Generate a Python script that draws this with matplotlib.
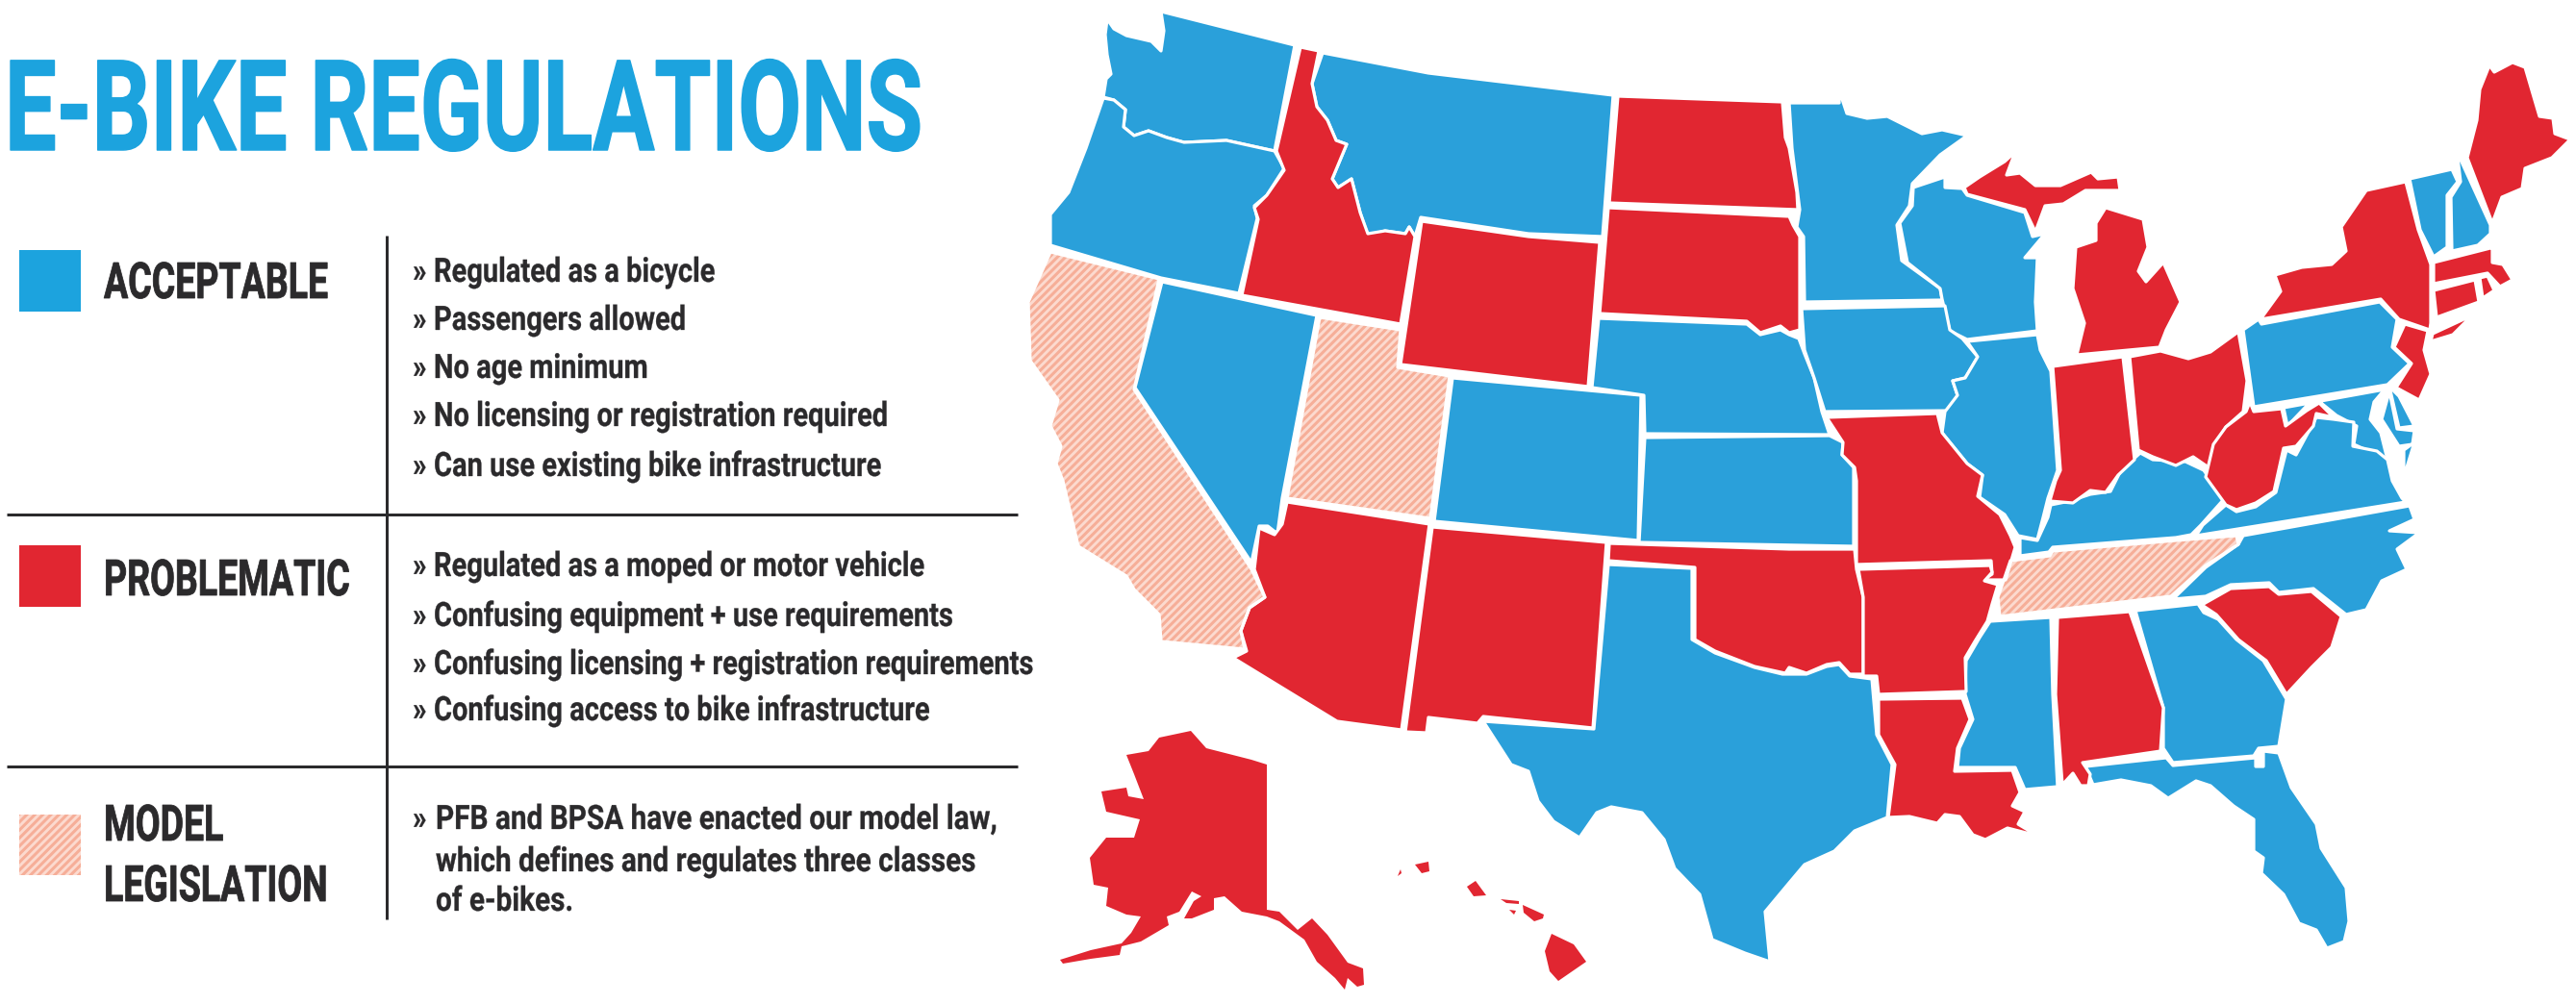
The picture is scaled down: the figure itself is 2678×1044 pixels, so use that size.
import matplotlib
matplotlib.use("Agg")
import matplotlib.pyplot as plt
from matplotlib.patches import Polygon, Rectangle
from matplotlib.patheffects import AbstractPathEffect
from matplotlib.text import Text
from matplotlib.transforms import Affine2D, Bbox

# outlines, in image pixels
WA = [(1151,20),(1158,30),(1171,37),(1197,43),(1207,53),(1210,32),(1207,12),(1346,47),(1325,157),(1275,146),(1231,148),(1213,143),(1194,136),(1179,141),(1168,132),(1170,114),(1158,104),(1147,101),(1150,82),(1155,77),(1151,57),(1149,36)]
OR = [(1147,102),(1158,104),(1170,114),(1168,132),(1179,141),(1194,136),(1213,143),(1231,148),(1275,146),(1325,157),(1335,175),(1317,203),(1304,214),(1307,227),(1288,305),(1207,289),(1092,255),(1092,223),(1111,200),(1129,154)]
ID = [(1352,49),(1371,53),(1364,87),(1369,111),(1380,125),(1389,146),(1400,150),(1385,186),(1391,195),(1405,186),(1414,221),(1422,243),(1440,240),(1461,243),(1465,236),(1471,246),(1456,337),(1291,307),(1308,228),(1304,216),(1317,203),(1335,177),(1327,157)]
MT = [(1375,55),(1485,76),(1677,99),(1666,246),(1589,243),(1477,226),(1471,246),(1465,236),(1461,243),(1440,240),(1422,245),(1414,221),(1405,186),(1391,195),(1385,186),(1400,150),(1389,146),(1380,125),(1369,111),(1364,87)]
WY = [(1478,230),(1589,246),(1663,252),(1651,402),(1456,379)]
ND = [(1682,100),(1853,106),(1856,143),(1860,154),(1868,200),(1869,218),(1673,211)]
SD = [(1672,216),(1860,225),(1864,234),(1871,246),(1871,343),(1860,346),(1851,339),(1830,346),(1816,334),(1663,326)]
NE = [(1662,331),(1816,337),(1830,348),(1851,343),(1860,348),(1870,352),(1876,368),(1886,393),(1894,428),(1902,452),(1710,451),(1709,411),(1655,403)]
KS = [(1710,455),(1902,453),(1916,460),(1915,473),(1927,486),(1927,568),(1704,564)]
CO = [(1510,393),(1706,411),(1703,562),(1491,542)]
UT = [(1372,330),(1456,343),(1453,382),(1507,391),(1487,539),(1338,518)]
NV = [(1208,293),(1369,328),(1333,518),(1328,555),(1318,547),(1309,547),(1301,585),(1180,403)]
CA = [(1092,262),(1205,290),(1179,405),(1241,500),(1301,592),(1315,621),(1299,632),(1290,656),(1294,675),(1207,667),(1205,639),(1179,613),(1171,599),(1121,568),(1105,500),(1098,482),(1103,464),(1092,443),(1100,416),(1071,375),(1069,314),(1077,296)]
AZ = [(1338,522),(1486,545),(1457,759),(1390,750),(1282,684),(1296,677),(1290,656),(1299,632),(1315,621),(1304,592),(1309,549),(1325,556),(1333,545)]
NM = [(1489,548),(1670,564),(1656,757),(1542,745),(1536,752),(1485,746),(1483,762),(1461,761)]
OK = [(1673,565),(1860,571),(1928,571),(1930,592),(1937,621),(1937,701),(1923,701),(1912,689),(1899,691),(1878,700),(1860,694),(1856,700),(1824,693),(1783,677),(1762,665),(1762,590),(1672,583)]
TX = [(1672,587),(1759,591),(1759,665),(1783,679),(1824,694),(1853,701),(1878,701),(1899,693),(1912,691),(1923,703),(1946,706),(1951,764),(1967,795),(1962,850),(1928,864),(1907,885),(1876,899),(1860,918),(1835,948),(1840,1000),(1814,991),(1780,977),(1767,930),(1741,903),(1730,873),(1707,845),(1675,839),(1660,845),(1642,871),(1615,854),(1599,833),(1589,802),(1571,795),(1542,750),(1657,758)]
MN = [(1860,107),(1912,107),(1912,94),(1920,118),(1941,123),(1962,121),(1998,139),(2019,135),(2045,141),(2017,161),(1988,191),(1985,214),(1972,234),(1977,271),(2017,300),(2019,312),(1876,314),(1875,246),(1868,236),(1871,218),(1863,154)]
WI = [(1989,195),(2022,184),(2022,195),(2040,196),(2045,203),(2105,221),(2113,246),(2126,243),(2105,268),(2118,268),(2116,314),(2118,344),(2045,353),(2027,344),(2019,311),(2017,300),(1983,273),(1975,232),(1988,214)]
IA = [(1873,321),(2022,318),(2027,343),(2040,352),(2056,371),(2043,393),(2030,396),(2035,411),(2027,427),(1897,428),(1886,393),(1876,364)]
IL = [(2045,355),(2118,348),(2121,364),(2132,386),(2139,489),(2129,518),(2124,538),(2118,561),(2098,557),(2084,535),(2058,517),(2061,494),(2045,482),(2019,450),(2022,428),(2035,411),(2030,396),(2043,393),(2056,371)]
MO = [(1899,434),(2014,430),(2019,450),(2045,482),(2061,494),(2056,516),(2079,535),(2090,557),(2095,569),(2085,603),(2062,603),(2071,597),(2070,583),(1930,587),(1930,500),(1928,486),(1915,473),(1916,460)]
AR = [(1932,592),(2069,588),(2071,595),(2063,604),(2077,608),(2071,628),(2066,646),(2053,667),(2043,684),(2044,719),(1953,722),(1951,703),(1937,703),(1937,621)]
LA = [(1953,727),(2040,726),(2048,748),(2035,778),(2032,802),(2092,801),(2100,824),(2092,838),(2105,844),(2098,857),(2118,869),(2087,861),(2064,873),(2051,868),(2037,849),(2022,847),(2014,856),(1985,849),(1963,850),(1970,795),(1953,764)]
MS = [(2069,646),(2132,642),(2134,722),(2139,818),(2105,821),(2095,798),(2035,798),(2037,778),(2051,748),(2043,722),(2044,687),(2058,663)]
AL = [(2139,642),(2214,636),(2249,736),(2246,781),(2165,793),(2173,805),(2171,817),(2163,817),(2155,804),(2144,816),(2137,722)]
GA = [(2220,635),(2285,628),(2291,637),(2306,644),(2325,665),(2353,687),(2377,727),(2369,776),(2348,778),(2343,786),(2259,793),(2249,778),(2249,736)]
FL = [(2168,797),(2252,788),(2259,796),(2345,788),(2345,797),(2353,797),(2353,781),(2369,783),(2382,819),(2408,857),(2413,882),(2439,923),(2442,958),(2437,979),(2419,986),(2408,967),(2390,960),(2374,930),(2351,908),(2353,892),(2343,885),(2343,852),(2322,838),(2298,817),(2283,812),(2254,830),(2236,817),(2205,811),(2176,816)]
SC = [(2289,629),(2319,612),(2359,610),(2369,618),(2403,615),(2434,641),(2424,673),(2403,694),(2377,722),(2356,687),(2327,665),(2304,639)]
NC = [(2332,557),(2505,526),(2510,540),(2484,552),(2515,554),(2492,571),(2502,592),(2476,604),(2460,634),(2439,639),(2405,612),(2369,616),(2359,606),(2319,608),(2293,620),(2259,623),(2293,590),(2327,566)]
TN = [(2090,583),(2131,578),(2134,573),(2262,562),(2325,557),(2327,566),(2293,588),(2257,620),(2079,641),(2077,621)]
KY = [(2100,578),(2100,559),(2118,562),(2129,538),(2132,525),(2152,521),(2173,514),(2194,511),(2205,489),(2225,471),(2238,478),(2272,480),(2291,489),(2312,519),(2288,546),(2278,556),(2262,559),(2134,569),(2130,574)]
IN = [(2134,381),(2207,371),(2219,478),(2202,494),(2189,512),(2173,510),(2155,523),(2131,521),(2137,500),(2142,489)]
OH = [(2214,371),(2246,365),(2275,373),(2298,366),(2327,345),(2336,396),(2332,428),(2314,444),(2304,461),(2296,486),(2280,475),(2262,484),(2238,475),(2223,468)]
MI_LOWER = [(2189,216),(2228,228),(2233,257),(2223,282),(2231,293),(2249,273),(2267,314),(2252,343),(2245,361),(2159,369),(2167,336),(2155,300),(2158,257),(2179,250),(2179,232)]
MI_UPPER = [(2042,195),(2058,184),(2084,168),(2095,158),(2086,182),(2100,180),(2116,193),(2142,193),(2174,179),(2181,186),(2202,184),(2204,198),(2168,198),(2145,212),(2126,214),(2116,241),(2105,218),(2045,202)]
NY = [(2501,189),(2514,239),(2527,275),(2527,336),(2526,343),(2494,332),(2475,311),(2350,332),(2371,303),(2365,286),(2393,278),(2424,275),(2439,261),(2434,236),(2460,198)]
LONG_ISLAND = [(2529,347),(2570,328),(2550,348),(2527,355)]
NJ = [(2500,337),(2524,344),(2520,364),(2527,389),(2515,416),(2491,403),(2507,378),(2489,361)]
PA = [(2332,343),(2348,332),(2351,337),(2474,314),(2492,332),(2487,361),(2505,378),(2482,400),(2343,423)]
VT = [(2505,186),(2549,176),(2555,189),(2544,203),(2544,257),(2530,267),(2516,239)]
NH = [(2555,164),(2558,166),(2589,234),(2589,243),(2576,255),(2549,261),(2548,205),(2558,189)]
ME = [(2588,68),(2593,75),(2612,65),(2625,70),(2640,121),(2654,123),(2656,139),(2672,145),(2653,164),(2625,175),(2622,196),(2601,205),(2591,232),(2565,164),(2575,125),(2578,93)]
MA = [(2530,273),(2589,258),(2591,253),(2591,273),(2602,275),(2612,291),(2599,298),(2586,284),(2530,295)]
CT = [(2530,302),(2573,291),(2577,314),(2533,330)]
RI = [(2578,289),(2586,287),(2593,302),(2581,310)]
MD = [(2374,424),(2479,405),(2468,418),(2464,436),(2475,450),(2482,478),(2447,462),(2450,443),(2429,432),(2413,419),(2397,423),(2378,443)]
MD_EAST = [(2484,407),(2492,446),(2510,448),(2508,462),(2494,464),(2476,436)]
DE = [(2484,402),(2494,412),(2510,443),(2494,445)]
WV = [(2339,418),(2343,428),(2372,425),(2376,443),(2398,427),(2411,419),(2426,434),(2408,430),(2405,443),(2387,464),(2374,466),(2364,511),(2345,523),(2325,530),(2314,525),(2293,496),(2301,462),(2314,444),(2335,428)]
VA = [(2283,557),(2290,546),(2314,525),(2325,532),(2345,527),(2366,512),(2377,468),(2387,473),(2408,434),(2426,436),(2447,439),(2446,464),(2471,469),(2482,478),(2487,500),(2497,518),(2501,522)]
VA_EAST = [(2499,468),(2510,460),(2499,496)]
AK = [(1238,760),(1254,778),(1301,790),(1317,795),(1317,946),(1330,948),(1349,967),(1364,955),(1380,972),(1401,1001),(1417,1007),(1418,1024),(1411,1026),(1401,1017),(1398,1029),(1388,1017),(1369,1000),(1356,977),(1330,958),(1317,953),(1291,948),(1273,932),(1262,934),(1262,946),(1239,955),(1231,955),(1241,937),(1249,932),(1239,927),(1226,948),(1213,953),(1215,962),(1186,979),(1166,984),(1164,993),(1134,997),(1105,1002),(1102,998),(1134,988),(1166,981),(1176,970),(1186,953),(1171,951),(1150,942),(1152,923),(1137,920),(1133,892),(1150,871),(1179,871),(1185,852),(1150,844),(1145,823),(1171,819),(1173,828),(1189,831),(1179,805),(1171,785),(1194,781),(1205,767)]
HI_KAUAI = [(1471,899),(1485,896),(1486,906),(1478,908)]
HI_NIIHAU = [(1456,904),(1457,908),(1453,911)]
HI_OAHU = [(1525,922),(1534,916),(1545,931),(1532,932)]
HI_MOLOKAI = [(1560,935),(1579,937),(1579,940),(1566,939)]
HI_LANAI = [(1569,946),(1576,947),(1574,951)]
HI_MAUI = [(1583,941),(1605,951),(1604,955),(1595,958),(1584,949)]
HI_BIG = [(1613,971),(1636,982),(1649,1000),(1620,1020),(1611,1010),(1606,989)]

ACCEPTABLE = [WA, OR, MT, NV, CO, NE, KS, TX, MN, WI, IA, IL, MS, GA, FL, NC, KY, PA, VT, NH, MD, MD_EAST, DE, VA, VA_EAST]
PROBLEMATIC = [ID, WY, ND, SD, AZ, NM, OK, MO, AR, LA, AL, SC, IN, OH, MI_LOWER, MI_UPPER, NY, LONG_ISLAND, NJ, ME, MA, CT, RI, WV]
PROBLEMATIC_ISLANDS = [AK, HI_KAUAI, HI_NIIHAU, HI_OAHU, HI_MOLOKAI, HI_LANAI, HI_MAUI, HI_BIG]
MODEL_LAW = [CA, UT, TN]

TITLE = "E-BIKE REGULATIONS"
HEADINGS = ["ACCEPTABLE", "PROBLEMATIC", "MODEL", "LEGISLATION"]
ACCEPTABLE_ITEMS = ["Regulated as a bicycle", "Passengers allowed", "No age minimum",
                    "No licensing or registration required", "Can use existing bike infrastructure"]
PROBLEMATIC_ITEMS = ["Regulated as a moped or motor vehicle", "Confusing equipment + use requirements",
                     "Confusing licensing + registration requirements", "Confusing access to bike infrastructure"]
MODEL_ITEMS = ["PFB and BPSA have enacted our model law,", "which defines and regulates three classes", "of e-bikes."]

BLUE = "#2aa0da"
RED = "#e12631"
LEGEND_BLUE = "#1ca3de"
HATCH_BG = "#fcdacf"
HATCH_FG = "#f6ae98"
INK = "#2b2a2c"

DPI = 100
px = 72 / DPI  # points per image pixel
plt.rcParams["font.family"] = ["Roboto", "DejaVu Sans"]
plt.rcParams["hatch.linewidth"] = 3 * px


class Narrow(AbstractPathEffect):
    """squeeze glyphs sideways, no condensed face is installed"""
    def __init__(self, sx, stroke=0.0):
        super().__init__()
        self.sx, self.stroke = sx, stroke

    def draw_path(self, renderer, gc, tpath, affine, rgbFace=None):
        gc0 = renderer.new_gc()
        gc0.copy_properties(gc)
        gc0.set_linewidth(self.stroke)
        gc0.set_foreground(rgbFace)
        renderer.draw_path(gc0, tpath, Affine2D().scale(self.sx, 1) + affine, rgbFace)
        gc0.restore()


class NarrowText(Text):
    """left aligned text drawn squeezed, reports the squeezed box"""
    def __init__(self, x, y, s, sx, stroke, **kw):
        super().__init__(x, y, s, ha="left", va="baseline", fontweight="bold", **kw)
        self.sx = sx
        self.set_path_effects([Narrow(sx, stroke)])

    def get_window_extent(self, renderer=None, dpi=None):
        bb = super().get_window_extent(renderer, dpi)
        return Bbox.from_extents(bb.x0, bb.y0, bb.x0 + bb.width * self.sx, bb.y1)


fig = plt.figure(figsize=(2678 / DPI, 1044 / DPI), dpi=DPI)
ax = fig.add_axes([0, 0, 1, 1])
ax.set_xlim(0, 2678)
ax.set_ylim(1044, 0)
ax.axis("off")

for group, col in ((ACCEPTABLE, BLUE), (PROBLEMATIC, RED)):
    for outline in group:
        ax.add_patch(Polygon(outline, closed=True, fc=col, ec="white", lw=3.2 * px, joinstyle="round", zorder=2))
for outline in PROBLEMATIC_ISLANDS:
    ax.add_patch(Polygon(outline, closed=True, fc=RED, ec="none", zorder=2))
for outline in MODEL_LAW:
    ax.add_patch(Polygon(outline, closed=True, fc=HATCH_BG, ec=HATCH_FG, hatch="////", lw=0, zorder=1))
    ax.add_patch(Polygon(outline, closed=True, fill=False, ec="white", lw=3.2 * px, joinstyle="round", zorder=3))

# left hand panel
ax.add_artist(NarrowText(5, 156, TITLE, 0.728, 1.5 * px, color=LEGEND_BLUE, fontsize=131 * px))

ax.add_patch(Rectangle((20, 260), 64, 64, fc=LEGEND_BLUE, ec="none"))
ax.add_patch(Rectangle((20, 567), 64, 64, fc=RED, ec="none"))
ax.add_patch(Rectangle((20, 847), 64, 63, fc=HATCH_BG, ec=HATCH_FG, hatch="////", lw=0))

ax.plot([402, 402], [245, 956], color=INK, lw=3 * px, solid_capstyle="butt")
ax.plot([7, 1058], [535, 535], color=INK, lw=3 * px, solid_capstyle="butt")
ax.plot([7, 1058], [797, 797], color=INK, lw=3 * px, solid_capstyle="butt")

for head, y in zip(HEADINGS, (310, 619, 874, 937)):
    ax.add_artist(NarrowText(108, y, head, 0.72, 0.8 * px, color=INK, fontsize=52 * px))


def item(x, y, txt, sx=0.83):
    ax.add_artist(NarrowText(x, y, txt, sx, 0.3 * px, color=INK, fontsize=35 * px))


for txt, y in zip(ACCEPTABLE_ITEMS, (293, 343, 393, 443, 495)):
    item(429, y, "»")
    item(451, y, txt)
for txt, y in zip(PROBLEMATIC_ITEMS, (599, 651, 701, 749)):
    item(429, y, "»")
    item(451, y, txt)
item(429, 862, "»")
for txt, y in zip(MODEL_ITEMS, (862, 906, 947)):
    item(453, y, txt, sx=0.85)

fig.savefig("out.png", dpi=DPI, facecolor="white")
